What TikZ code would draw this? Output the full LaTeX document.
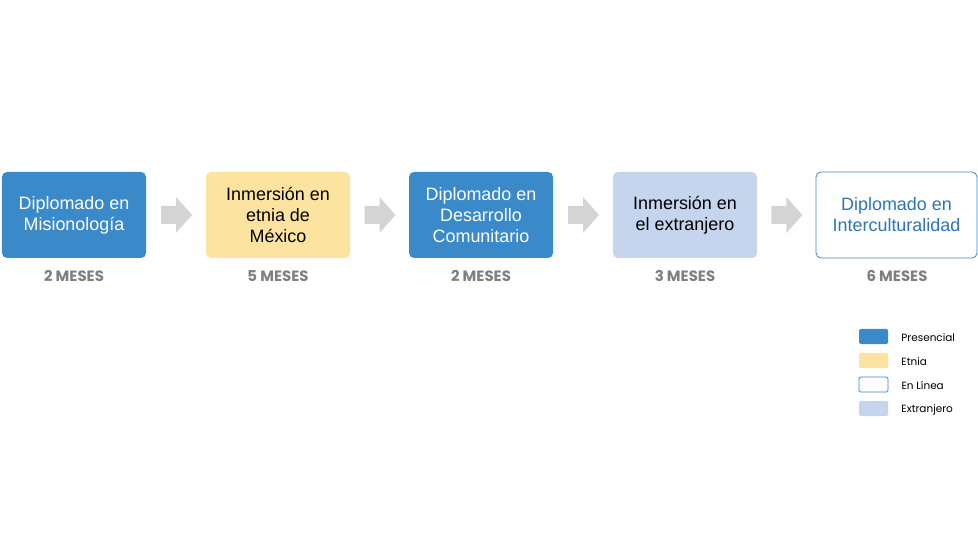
\documentclass[tikz,border=0pt]{standalone}
\usetikzlibrary{calc}
\usepackage{fontspec}
\setmainfont{Liberation Sans}
\newfontfamily\lblfont{Poppins}
\begin{document}
\begin{tikzpicture}[x=1bp,y=-1bp,
  box/.style={rounded corners=5bp,minimum width=144bp,minimum height=86bp,align=center,font=\fontsize{18}{21}\selectfont,inner sep=2bp},
  pres/.style={box,fill=presblue,text=white},
  etn/.style={box,fill=etyellow,text=black},
  ext/.style={box,fill=exblue,text=black},
  lin/.style={box,draw=presblue,line width=0.8bp,fill=white,text=linetext},
  dur/.style={font=\lblfont\fontsize{15}{18}\selectfont\bfseries,text=durgray},
  sw/.style={rounded corners=1.5bp,minimum width=29bp,minimum height=15bp,inner sep=0},
  leg/.style={font=\lblfont\fontsize{10.5}{12}\selectfont,text=black,anchor=west,inner sep=0},
  chev/.style={fill=arrgray,draw=none}]
\definecolor{presblue}{HTML}{3A89C9}
\definecolor{etyellow}{HTML}{FCE4A0}
\definecolor{exblue}{HTML}{C5D5EE}
\definecolor{linetext}{HTML}{2E75B6}
\definecolor{durgray}{HTML}{7F7F7F}
\definecolor{arrgray}{HTML}{D4D4D4}
\useasboundingbox (0,0) rectangle (978,551);
\node[pres] (b1) at (74,215) {Diplomado en\\Misionología};
\node[etn] (b2) at (278,215) {Inmersión en\\etnia de\\México};
\node[pres] (b3) at (481,215) {Diplomado en\\Desarrollo\\Comunitario};
\node[ext] (b4) at (685,215) {Inmersión en\\el extranjero};
\node[lin,minimum width=161bp] (b5) at (896.5,215) {Diplomado en\\Interculturalidad};
\foreach \i/\t in {1/2,2/5,3/2,4/3} {\node[dur] (d\i) at ($(b\i.south)+(0,18)$) {\t\ MESES};}
\node[dur] (d5) at (897,276) {6 MESES};
\foreach \a/\b in {b1/b2,b2/b3,b3/b4,b4/b5} {
  \path (\a.east) -- (\b.west) coordinate[pos=0.5] (m\a);
  \fill[chev] ($(m\a)+(-15,-9)$) -- ($(m\a)+(0,-9)$) -- ($(m\a)+(0,-18)$) -- ($(m\a)+(16,0)$) -- ($(m\a)+(0,18)$) -- ($(m\a)+(0,9)$) -- ($(m\a)+(-15,9)$) -- cycle;
}
\node[sw,fill=presblue] (s1) at (873.5,336.5) {};
\node[sw,fill=etyellow] (s2) at (873.5,360.5) {};
\node[sw,draw=presblue,line width=0.8bp,fill=white] (s3) at (873.5,384.5) {};
\node[sw,fill=exblue] (s4) at (873.5,408.5) {};
\node[leg] at ($(s1.east)+(13,1)$) {Presencial};
\node[leg] at ($(s2.east)+(13,1)$) {Etnia};
\node[leg] at ($(s3.east)+(13,1)$) {En Línea};
\node[leg] at ($(s4.east)+(13,1)$) {Extranjero};
\end{tikzpicture}
\end{document}
